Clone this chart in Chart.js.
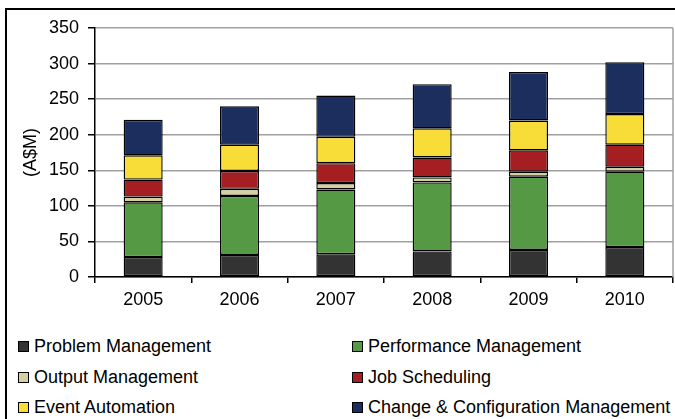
<!DOCTYPE html>
<html>
<head>
<meta charset="utf-8">
<script src="https://cdn.jsdelivr.net/npm/chart.js@4.4.1/dist/chart.umd.min.js"></script>
<style>
  body { margin: 0; background: #fff; overflow: hidden; width: 675px; height: 419px; position: relative; }
  .frame { position: absolute; left: 5px; top: 8px; width: 720px; height: 460px; border: 2px solid #000; }
  #wrap { position: absolute; left: 0; top: 0; width: 675px; height: 320px; }
  .legend-item { position: absolute; font: 18px "Liberation Sans", Arial, sans-serif; color: #000; white-space: nowrap; line-height: 20px; }
  .legend-item .box { display: inline-block; width: 9px; height: 9px; border: 1px solid #000; margin-right: 5px; vertical-align: 0px; }
</style>
</head>
<body>
<div class="frame"></div>
<div id="wrap"><canvas id="chart"></canvas></div>
<div id="legend"></div>

<script>
const years = ["2005", "2006", "2007", "2008", "2009", "2010"];

const problemMgmt     = [28, 31, 32, 36, 38, 42];
const performanceMgmt = [77, 83, 91, 97, 103, 106];
const outputMgmt      = [8, 10, 9, 7, 7, 7];
const jobScheduling   = [24, 25, 28, 28, 30, 31];
const eventAutomation = [34, 37, 37, 41, 42, 43];
const changeConfig    = [50, 54, 58, 62, 68, 73];

const seriesNames = [
    "Problem Management", "Performance Management",
    "Output Management", "Job Scheduling",
    "Event Automation", "Change & Configuration Management"
];
const seriesColors = ["#333333", "#559944", "#D8CFA0", "#A51E22", "#F8DD38", "#1C2E5E"];
const seriesValues = [problemMgmt, performanceMgmt, outputMgmt, jobScheduling, eventAutomation, changeConfig];

const yTicks = [0, 50, 100, 150, 200, 250, 300, 350];

// gray border on the right side of the plot area
const plotBorder = {
    id: "plotBorder",
    afterDraw(chart) {
        const a = chart.chartArea;
        const ctx = chart.ctx;
        ctx.save();
        ctx.strokeStyle = "#a0a0a0";
        ctx.lineWidth = 1.5;
        ctx.beginPath();
        ctx.moveTo(a.right, a.top);
        ctx.lineTo(a.right, a.bottom);
        ctx.stroke();
        ctx.restore();
    }
};

const datasets = seriesNames.map((name, i) => ({
    label: name,
    data: seriesValues[i],
    backgroundColor: seriesColors[i],
    borderColor: "#000",
    borderWidth: 1.4,
    borderSkipped: false,
    barPercentage: 0.405,
    categoryPercentage: 1
}));

const font = { family: "'Liberation Sans', Arial, sans-serif", size: 18 };

new Chart(document.getElementById("chart"), {
    type: "bar",
    data: { labels: years, datasets: datasets },
    plugins: [plotBorder],
    options: {
        responsive: true,
        maintainAspectRatio: false,
        animation: false,
        layout: { padding: { left: 0, top: 28, right: 2, bottom: 0 } },
        plugins: {
            legend: { display: false },
            tooltip: { enabled: false }
        },
        scales: {
            x: {
                stacked: true,
                offset: true,
                grid: { offset: true, drawOnChartArea: false, drawTicks: true, tickLength: 6, tickColor: "#000", lineWidth: 1.5 },
                border: { color: "#000", width: 1.5 },
                ticks: { color: "#000", font: font, padding: 6 },
                afterFit(scale) { scale.height = 43; }
            },
            y: {
                stacked: true,
                min: 0,
                max: 350,
                afterBuildTicks(scale) { scale.ticks = yTicks.map(v => ({ value: v })); },
                grid: { color: "#a0a0a0", lineWidth: 1.5, tickLength: 7, tickColor: "#000" },
                border: { color: "#000", width: 1.5 },
                ticks: { color: "#000", font: font, padding: 9 },
                title: { display: true, text: "(A$M)", color: "#000", font: font, padding: { top: 20, bottom: 0 } },
                afterFit(scale) { scale.width = 95; }
            }
        }
    }
});

// legend in two columns under the chart
const legend = document.getElementById("legend");
const colX = [18, 352];
const rowY = [336, 367, 397];
seriesNames.forEach((name, i) => {
    const item = document.createElement("div");
    item.className = "legend-item";
    item.style.left = colX[i % 2] + "px";
    item.style.top = rowY[Math.floor(i / 2)] + "px";
    const box = document.createElement("span");
    box.className = "box";
    box.style.background = seriesColors[i];
    item.appendChild(box);
    item.appendChild(document.createTextNode(name));
    legend.appendChild(item);
});
</script>
</body>
</html>
